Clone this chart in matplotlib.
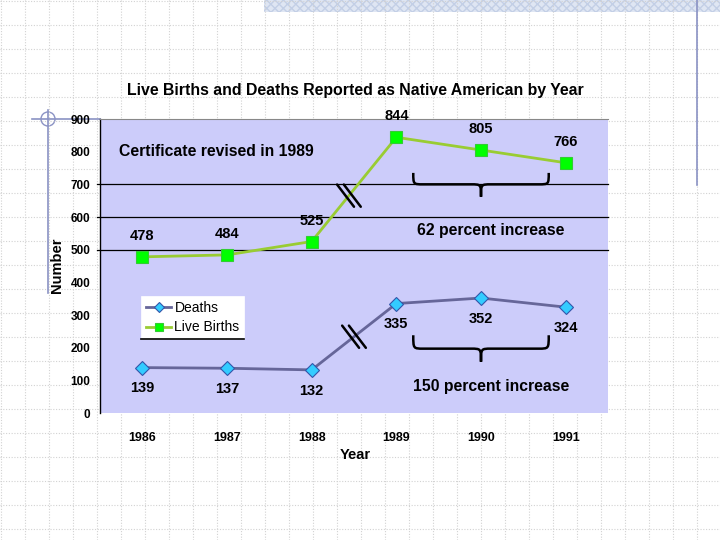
import numpy as np
import matplotlib
matplotlib.use('Agg')
import matplotlib.pyplot as plt
from matplotlib.patches import Rectangle, Circle, PathPatch
from matplotlib.path import Path

plt.rcParams['font.family'] = ['Liberation Sans', 'DejaVu Sans']

# Data
years = ['1986', '1987', '1988', '1989', '1990', '1991']
live_births = [478, 484, 525, 844, 805, 766]
deaths = [139, 137, 132, 335, 352, 324]
y_ticks = [0, 100, 200, 300, 400, 500, 600, 700, 800, 900]
grid_values = [500, 600, 700]

W, H = 720, 540
fig = plt.figure(figsize=(7.2, 5.4), dpi=100)
fig.patch.set_facecolor('white')

# slide background (pixel coordinates)
bg = fig.add_axes([0, 0, 1, 1], zorder=0)
bg.set_xlim(0, W)
bg.set_ylim(H, 0)
bg.axis('off')
for k in range(0, 31):
    bg.axvline(1 + 24 * k, color='#d2d2d2', lw=0.8, ls=(0, (1, 1.5)))
    bg.axhline(1 + 24 * k, color='#d2d2d2', lw=0.8, ls=(0, (1, 1.5)))
bg.add_patch(Rectangle((264, 0), W - 264, 12, facecolor='#dfe6f3',
                       edgecolor='#c3cfe6', hatch='xxxx', lw=0))
deco = '#8a92c4'
bg.plot([697, 697], [0, 185], color=deco, lw=1.2)
bg.plot([48, 48], [110, 293], color=deco, lw=1.2)
bg.plot([32, 100], [119, 119], color=deco, lw=1.2)
bg.add_patch(Circle((48, 119), 7, fill=False, edgecolor=deco, lw=1.0))

# main chart
left, right, top, bottom = 100, 608, 119, 413
ax = fig.add_axes([left / W, 1 - bottom / H, (right - left) / W, (bottom - top) / H], zorder=2)
ax.set_facecolor('#ccccfa')
x = np.arange(len(years))
ax.set_xlim(-0.5, len(years) - 0.5)
ax.set_ylim(0, 900)

for v in grid_values:
    ax.plot([-0.53, len(years) - 0.5], [v, v], color='black', lw=0.9, clip_on=False, zorder=1)

ax.plot(x, deaths, color='#666699', lw=2, marker='D', markersize=7.5,
        markerfacecolor='#33ccff', markeredgecolor='#3355aa', markeredgewidth=0.8,
        label='Deaths', zorder=3)
ax.plot(x, live_births, color='#99cc33', lw=2, marker='s', markersize=8,
        markerfacecolor='#00ff00', markeredgecolor='#33cc33', markeredgewidth=0.8,
        label='Live Births', zorder=3)

for xi, v in zip(x, live_births):
    ax.annotate(str(v), (xi, v), textcoords='offset points', xytext=(0, 15),
                ha='center', va='center', fontsize=10.5, fontweight='bold')
for xi, v in zip(x, deaths):
    ax.annotate(str(v), (xi, v), textcoords='offset points', xytext=(0, -15),
                ha='center', va='center', fontsize=10.5, fontweight='bold')

# break marks "//" on the 1988-1989 segments
def break_mark(series, t):
    xm = 2 + t
    ym = series[2] + (series[3] - series[2]) * t
    for dx in (-0.04, 0.04):
        ax.plot([xm + dx - 0.1, xm + dx + 0.1], [ym + 34, ym - 34],
                color='black', lw=1.8, zorder=4, solid_capstyle='round')

break_mark(live_births, 0.44)
break_mark(deaths, 0.5)

# curly braces
def brace(x0, x1, y_end, y_bar, y_tip):
    xm = (x0 + x1) / 2
    d = 0.12
    verts = [(x0, y_end), (x0, y_bar), (x0, y_bar), (x0 + d, y_bar),
             (xm - d, y_bar), (xm, y_bar), (xm, y_bar), (xm, y_tip),
             (xm, y_bar), (xm, y_bar), (xm + d, y_bar),
             (x1 - d, y_bar), (x1, y_bar), (x1, y_bar), (x1, y_end)]
    codes = [Path.MOVETO, Path.CURVE4, Path.CURVE4, Path.CURVE4,
             Path.LINETO, Path.CURVE4, Path.CURVE4, Path.CURVE4,
             Path.CURVE4, Path.CURVE4, Path.CURVE4,
             Path.LINETO, Path.CURVE4, Path.CURVE4, Path.CURVE4]
    ax.add_patch(PathPatch(Path(verts, codes), fill=False, lw=1.8,
                           edgecolor='black', zorder=4))

brace(3.2, 4.8, 735, 700, 662)
brace(3.2, 4.8, 238, 197, 157)

ax.text(0.88, 800, 'Certificate revised in 1989', ha='center', va='center',
        fontsize=11.3, fontweight='bold')
ax.text(4.12, 560, '62 percent increase', ha='center', va='center',
        fontsize=11.3, fontweight='bold')
ax.text(4.12, 82, '150 percent increase', ha='center', va='center',
        fontsize=11.3, fontweight='bold')

ax.set_xticks(x)
ax.set_xticklabels(years, fontsize=9, fontweight='bold')
ax.set_yticks(y_ticks)
ax.set_yticklabels([str(v) for v in y_ticks], fontsize=8.5, fontweight='bold')
ax.tick_params(axis='x', length=0, pad=14)
ax.tick_params(axis='y', length=0, pad=7)
for s in ('right', 'bottom'):
    ax.spines[s].set_visible(False)
ax.spines['left'].set_color('black')
ax.spines['left'].set_linewidth(1.0)
ax.spines['top'].set_color('#888888')
ax.spines['top'].set_linewidth(0.8)

leg = ax.legend(loc='upper left', bbox_to_anchor=(0.081, 0.398), borderaxespad=0,
                fontsize=10, fancybox=False, framealpha=1, edgecolor='white',
                handlelength=1.8, handletextpad=0.25, borderpad=0.35, labelspacing=0.4,
                markerscale=0.7)
leg.get_frame().set_linewidth(0.5)

fig.text(355 / W, 1 - 91 / H, 'Live Births and Deaths Reported as Native American by Year',
         ha='center', va='center', fontsize=11.4, fontweight='bold')
fig.text(355 / W, 1 - 455 / H, 'Year', ha='center', va='center',
         fontsize=10.5, fontweight='bold')
fig.text(57 / W, 1 - 265 / H, 'Number', ha='center', va='center', rotation=90,
         fontsize=10.5, fontweight='bold')

# black rule under the legend box
fig.canvas.draw()
bb = leg.get_window_extent()
fig.add_artist(plt.Line2D([bb.x0, bb.x1], [bb.y0, bb.y0], color='black', lw=1.2,
                          transform=None, zorder=5))

fig.savefig('out.png', dpi=100)
